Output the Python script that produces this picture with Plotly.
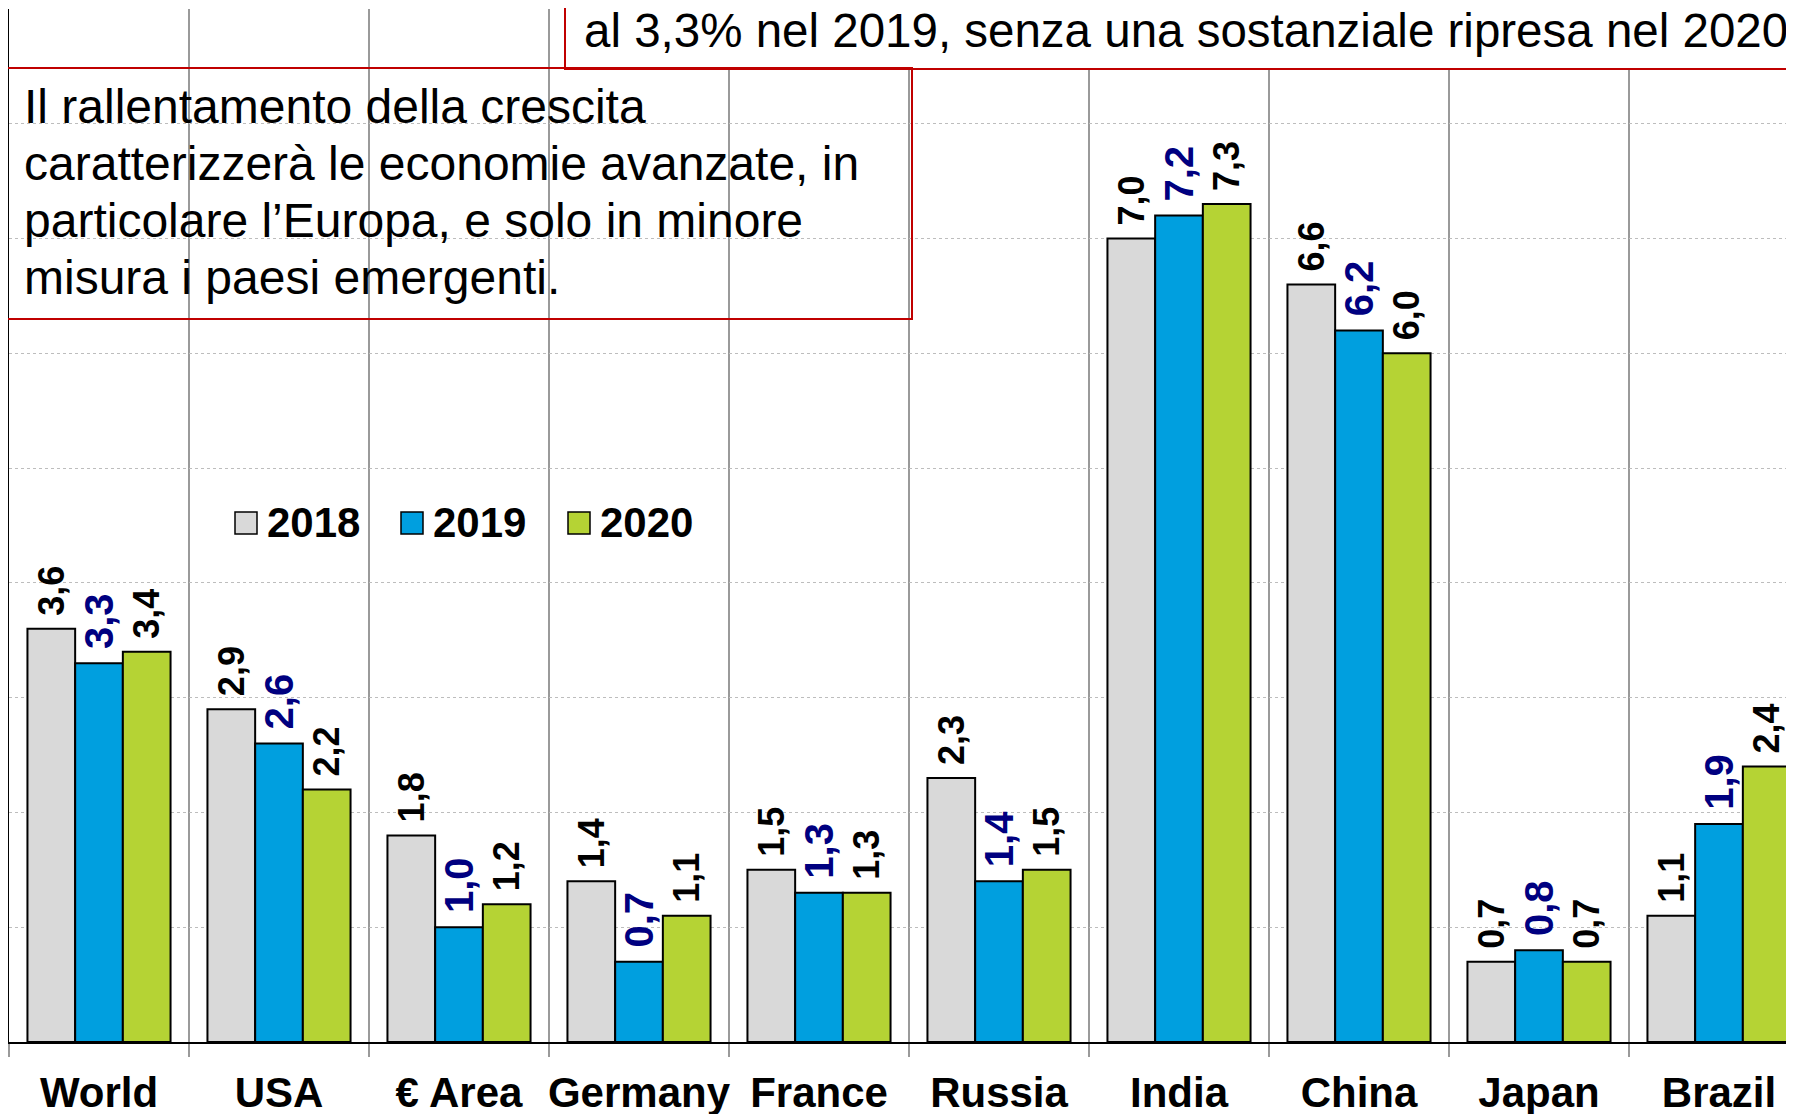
import plotly.graph_objects as go

# ---------------- data ----------------
categories = ["World", "USA", "€ Area", "Germany", "France", "Russia", "India", "China", "Japan", "Brazil"]
years = ["2018", "2019", "2020"]
growth_2018 = [3.6, 2.9, 1.8, 1.4, 1.5, 2.3, 7.0, 6.6, 0.7, 1.1]
growth_2019 = [3.3, 2.6, 1.0, 0.7, 1.3, 1.4, 7.2, 6.2, 0.8, 1.9]
growth_2020 = [3.4, 2.2, 1.2, 1.1, 1.3, 1.5, 7.3, 6.0, 0.7, 2.4]

headline_text = "al 3,3% nel 2019, senza una sostanziale ripresa nel 2020"
note_lines = [
    "Il rallentamento della crescita",
    "caratterizzerà le economie avanzate, in",
    "particolare l’Europa, e solo in minore",
    "misura i paesi emergenti.",
]

# ---------------- styling ----------------
FONT = "Arial, Liberation Sans, Helvetica, sans-serif"
bar_colors = ["#D9D9D9", "#009FDF", "#B5D334"]
label_colors = ["#000000", "#000080", "#000000"]
label_sizes = [36, 40, 36]
RED = "#C00000"

OFF = 8                         # page body margin of the html page
W, H = 1794 - OFF, 1114 - OFF   # figure size so that it ends at the window edge
L, T, B = 9, 9, 1042            # plot area edges in window pixels
PW, PH = 1794 - L, B - T


def px(x):
    return (x - L) / PW


def py(y):
    return (B - y) / PH


fig = go.Figure()
for name, vals, col, lcol, lsz in zip(years, [growth_2018, growth_2019, growth_2020],
                                      bar_colors, label_colors, label_sizes):
    fig.add_bar(
        x=categories, y=vals, name=name,
        marker=dict(color=col, line=dict(color="black", width=2)),
        texttemplate=" %{y:.1f}",
        textposition="outside",
        textangle=-90,
        constraintext="none",
        cliponaxis=False,
        textfont=dict(family=FONT, size=lsz, color=lcol, weight="bold"),
        showlegend=False,
    )

fig.update_layout(
    width=W, height=H,
    margin=dict(l=L - OFF, r=0, t=T - OFF, b=1114 - B, pad=0),
    paper_bgcolor="white", plot_bgcolor="white",
    separators=",.",
    barmode="group", bargap=0.205, bargroupgap=0,
    font=dict(family=FONT, color="black"),
    xaxis=dict(
        range=[-0.5, -0.5 + PW / 180.0],
        tickson="boundaries",
        tickangle=0,
        ticklabelstandoff=13,
        showgrid=True, gridcolor="#9A9A9A", gridwidth=1.5,
        ticks="outside", ticklen=13, tickcolor="#9A9A9A", tickwidth=1.5,
        showline=True, linecolor="black", linewidth=1.5,
        tickfont=dict(family=FONT, size=42, color="black", weight="bold"),
        automargin=False, fixedrange=True,
    ),
    yaxis=dict(
        range=[0, 9], dtick=1,
        showgrid=True, gridcolor="#BDBDBD", gridwidth=1, griddash="dot",
        showticklabels=False, ticks="",
        showline=True, linecolor="black", linewidth=1.5,
        zeroline=False, automargin=False, fixedrange=True,
    ),
)

shapes = []
annotations = []

# headline box (white, cut off at the top/right edges)
shapes.append(dict(type="rect", xref="paper", yref="paper",
                   x0=px(565), x1=px(1900), y0=py(69), y1=py(-30),
                   line=dict(color=RED, width=2), fillcolor="white", layer="above"))
annotations.append(dict(xref="paper", yref="paper", x=px(582), y=py(31),
                        xanchor="left", yanchor="middle", showarrow=False,
                        text=headline_text,
                        font=dict(family=FONT, size=47.5, color="black")))

# note box (transparent)
shapes.append(dict(type="rect", xref="paper", yref="paper",
                   x0=px(6), x1=px(912), y0=py(319), y1=py(68),
                   line=dict(color=RED, width=2), fillcolor="rgba(0,0,0,0)", layer="above"))
for i, line in enumerate(note_lines):
    annotations.append(dict(xref="paper", yref="paper", x=px(22), y=py(106 + 57.3 * i),
                            xanchor="left", yanchor="middle", showarrow=False,
                            text=line,
                            font=dict(family=FONT, size=48, color="black")))

# legend
legend_sq_x = [235, 401, 568]
for name, col, sx in zip(years, bar_colors, legend_sq_x):
    shapes.append(dict(type="rect", xref="paper", yref="paper",
                       x0=px(sx), x1=px(sx + 22), y0=py(534), y1=py(512),
                       line=dict(color="black", width=1.5), fillcolor=col, layer="above"))
    annotations.append(dict(xref="paper", yref="paper", x=px(sx + 30), y=py(522),
                            xanchor="left", yanchor="middle", showarrow=False,
                            text=name,
                            font=dict(family=FONT, size=42, color="black", weight="bold")))

fig.update_layout(shapes=shapes, annotations=annotations)
fig.write_html("out.html")
